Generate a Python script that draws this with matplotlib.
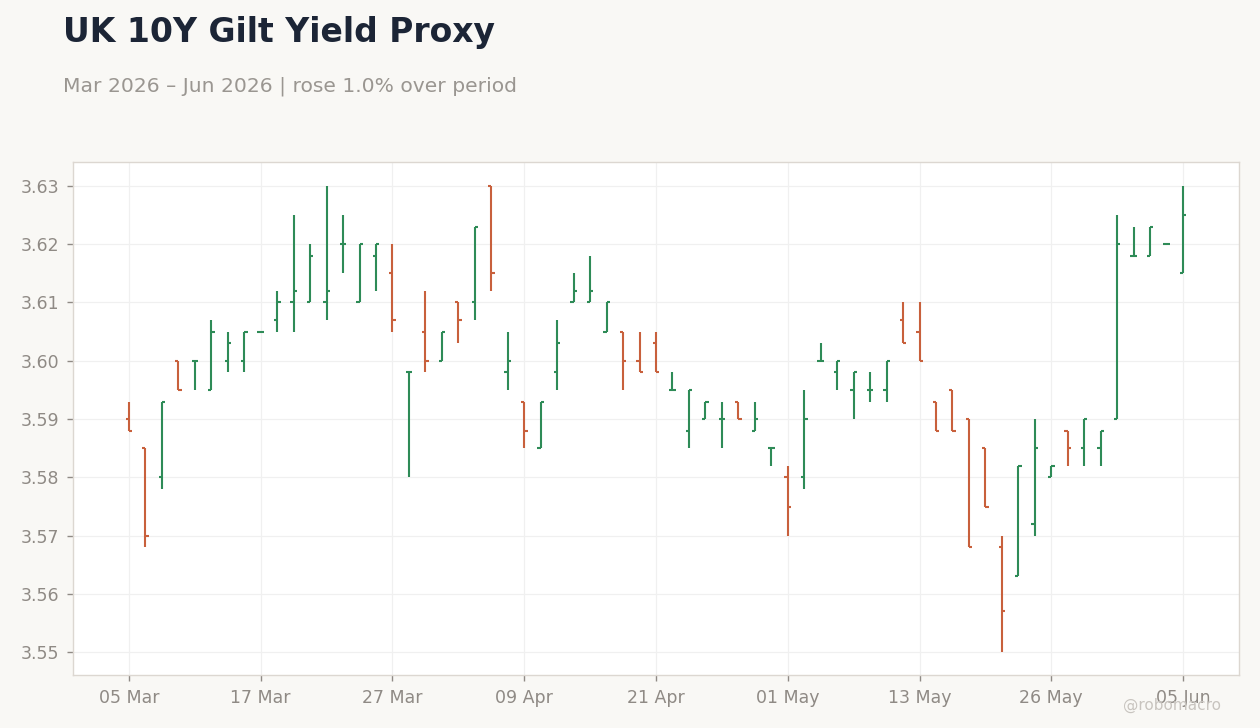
import numpy as np
import pandas as pd
import matplotlib
matplotlib.use("Agg")
import matplotlib.pyplot as plt

# ---------- data (daily OHLC, business days) ----------
opens = [3.590, 3.585, 3.580, 3.600, 3.600, 3.595, 3.600, 3.600, 3.605, 3.607,
         3.610, 3.610, 3.610, 3.620, 3.610, 3.618, 3.615, 3.598, 3.605, 3.600,
         3.610, 3.610, 3.630, 3.598, 3.593, 3.585, 3.598, 3.610, 3.610, 3.605,
         3.605, 3.600, 3.603, 3.595, 3.588, 3.590, 3.590, 3.593, 3.588, 3.585,
         3.580, 3.580, 3.600, 3.598, 3.595, 3.595, 3.595, 3.607, 3.605, 3.593,
         3.595, 3.590, 3.585, 3.568, 3.563, 3.572, 3.580, 3.588, 3.585, 3.585,
         3.590, 3.618, 3.618, 3.620, 3.615]
highs = [3.593, 3.585, 3.593, 3.600, 3.600, 3.607, 3.605, 3.605, 3.605, 3.612,
         3.625, 3.620, 3.630, 3.625, 3.620, 3.620, 3.620, 3.598, 3.612, 3.605,
         3.610, 3.623, 3.630, 3.605, 3.593, 3.593, 3.607, 3.615, 3.618, 3.610,
         3.605, 3.605, 3.605, 3.598, 3.595, 3.593, 3.593, 3.593, 3.593, 3.585,
         3.582, 3.595, 3.603, 3.600, 3.598, 3.598, 3.600, 3.610, 3.610, 3.593,
         3.595, 3.590, 3.585, 3.570, 3.582, 3.590, 3.582, 3.588, 3.590, 3.588,
         3.625, 3.623, 3.623, 3.620, 3.630]
lows = [3.588, 3.568, 3.578, 3.595, 3.595, 3.595, 3.598, 3.598, 3.605, 3.605,
        3.605, 3.610, 3.607, 3.615, 3.610, 3.612, 3.605, 3.580, 3.598, 3.600,
        3.603, 3.607, 3.612, 3.595, 3.585, 3.585, 3.595, 3.610, 3.610, 3.605,
        3.595, 3.598, 3.598, 3.595, 3.585, 3.590, 3.585, 3.590, 3.588, 3.582,
        3.570, 3.578, 3.600, 3.595, 3.590, 3.593, 3.593, 3.603, 3.600, 3.588,
        3.588, 3.568, 3.575, 3.550, 3.563, 3.570, 3.580, 3.582, 3.582, 3.582,
        3.590, 3.618, 3.618, 3.620, 3.615]
closes = [3.588, 3.570, 3.593, 3.595, 3.600, 3.605, 3.603, 3.605, 3.605, 3.610,
          3.612, 3.618, 3.612, 3.620, 3.620, 3.620, 3.607, 3.598, 3.600, 3.605,
          3.607, 3.623, 3.615, 3.600, 3.588, 3.593, 3.603, 3.612, 3.612, 3.610,
          3.600, 3.598, 3.598, 3.595, 3.595, 3.593, 3.590, 3.590, 3.590, 3.585,
          3.575, 3.590, 3.600, 3.600, 3.598, 3.595, 3.600, 3.603, 3.600, 3.588,
          3.588, 3.568, 3.575, 3.557, 3.582, 3.585, 3.582, 3.585, 3.590, 3.588,
          3.620, 3.618, 3.623, 3.620, 3.625]

holidays = ["2026-04-03", "2026-05-25"]
dates = pd.bdate_range("2026-03-05", "2026-06-05")
dates = dates[~dates.isin(pd.to_datetime(holidays))]

UP = "#2e8b57"
DOWN = "#c8603c"

fig = plt.figure(figsize=(12.6, 7.28), dpi=100)
fig.patch.set_facecolor("#f9f8f5")
ax = fig.add_axes([73/1260, 1 - 675/728, (1239-73)/1260, (675-162)/728])
ax.set_facecolor("white")

x = np.arange(len(dates))
tw = 0.2
for i, o, h, l, c in zip(x, opens, highs, lows, closes):
    col = UP if c >= o else DOWN
    ax.plot([i, i], [l, h], color=col, lw=1.5, solid_capstyle="butt", zorder=3)
    ax.plot([i - tw, i], [o, o], color=col, lw=1.5, solid_capstyle="butt", zorder=3)
    ax.plot([i, i + tw], [c, c], color=col, lw=1.5, solid_capstyle="butt", zorder=3)

ax.set_xlim(-3.4, 67.4)
ax.set_ylim(3.5461, 3.6341)
ax.set_yticks(np.arange(3.55, 3.6301, 0.01))
ax.yaxis.set_major_formatter(plt.FormatStrFormatter("%.2f"))
tick_idx = x[::8]
ax.set_xticks(tick_idx)
ax.set_xticklabels([dates[i].strftime("%d %b") for i in tick_idx])

ax.grid(True, color="#f0f0f0", lw=0.9, zorder=0)
ax.set_axisbelow(True)
for s in ax.spines.values():
    s.set_color("#dcd7d1")
    s.set_linewidth(1.0)
ax.tick_params(colors="#8f8a85", labelsize=12.5, length=4, width=1, pad=6)

fig.text(63/1260, 1 - 42/728, "UK 10Y Gilt Yield Proxy", fontsize=23.8,
         fontweight="bold", color="#1c2536", ha="left", va="baseline")
first, last = opens[0], closes[-1]
chg = (last - first) / first * 100
word = "rose" if chg >= 0 else "fell"
fig.text(63/1260, 1 - 92/728,
         f"{dates[0]:%b %Y} – {dates[-1]:%b %Y} | {word} {abs(chg):.1f}% over period",
         fontsize=14.6, color="#9a9691", ha="left", va="baseline")
fig.text(1221/1260, 1 - 705/728, "@robomacro", fontsize=11, color="#c8c4bf",
         ha="right", va="center")

fig.savefig("out.png", dpi=100, facecolor=fig.get_facecolor())
